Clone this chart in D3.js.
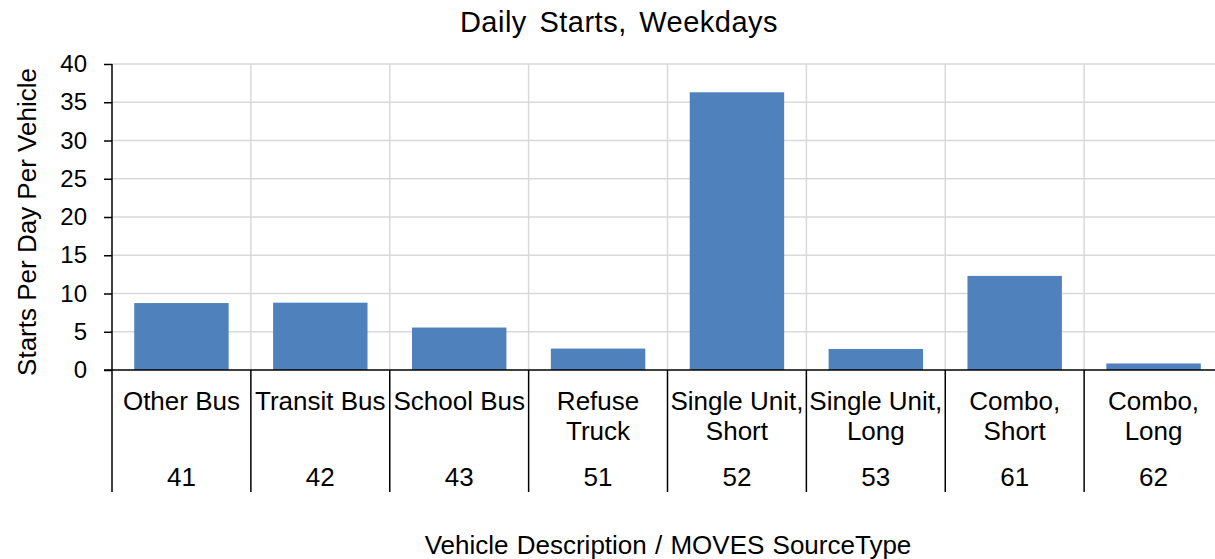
<!DOCTYPE html>
<html>
<head>
<meta charset="utf-8">
<script src="https://cdn.jsdelivr.net/npm/d3@7"></script>
<style>
  body { margin: 0; background: #fff; }
  svg { font-family: Arial, "Liberation Sans", sans-serif; }
</style>
</head>
<body>
<div id="chart"></div>
<script>
// Chart data
const categories = [
    ['Other Bus'], ['Transit Bus'], ['School Bus'], ['Refuse', 'Truck'],
    ['Single Unit,', 'Short'], ['Single Unit,', 'Long'], ['Combo,', 'Short'], ['Combo,', 'Long']
];
const sourceTypes = ['41', '42', '43', '51', '52', '53', '61', '62'];
const startsPerDay = [8.75, 8.8, 5.55, 2.8, 36.3, 2.75, 12.3, 0.85];
const yTicks = [0, 5, 10, 15, 20, 25, 30, 35, 40];

const width = 1215;
const height = 559;
const plotLeft = 112, plotRight = 1223, plotTop = 64, plotBottom = 370;
const lowerEdge = 492;

const svg = d3.select('#chart').append('svg')
    .attr('width', width)
    .attr('height', height);

const x = d3.scaleBand()
    .domain(sourceTypes)
    .range([plotLeft, plotRight])
    .paddingInner(0.32)
    .paddingOuter(0.16);

const y = d3.scaleLinear()
    .domain([0, 40])
    .range([plotBottom, plotTop]);

// Horizontal gridlines
svg.append('g')
    .selectAll('line')
    .data(yTicks.slice(1))
    .enter()
    .append('line')
    .attr('x1', plotLeft)
    .attr('x2', plotRight)
    .attr('y1', d => y(d))
    .attr('y2', d => y(d))
    .attr('stroke', '#d9d9d9')
    .attr('stroke-width', 1.5);

// Vertical gridlines at category boundaries
const step = x.step();
const boundaries = d3.range(1, sourceTypes.length + 1).map(i => plotLeft + i * step);
svg.append('g')
    .selectAll('line')
    .data(boundaries)
    .enter()
    .append('line')
    .attr('x1', d => d)
    .attr('x2', d => d)
    .attr('y1', plotTop)
    .attr('y2', plotBottom)
    .attr('stroke', '#d9d9d9')
    .attr('stroke-width', 1.5);

// Bars
svg.append('g')
    .selectAll('rect')
    .data(startsPerDay)
    .enter()
    .append('rect')
    .attr('x', (d, i) => x(sourceTypes[i]))
    .attr('y', d => y(d))
    .attr('width', x.bandwidth())
    .attr('height', d => y(0) - y(d))
    .attr('fill', '#4f81bd');

// Y axis
const yAxis = svg.append('g')
    .attr('transform', `translate(${plotLeft},0)`)
    .call(d3.axisLeft(y).tickValues(yTicks).tickSize(8).tickPadding(17));
yAxis.select('.domain').remove();
yAxis.selectAll('.tick line').attr('stroke', '#000').attr('stroke-width', 1.5);
yAxis.selectAll('.tick text')
    .attr('font-size', '24px')
    .attr('fill', '#000')
    .attr('font-family', 'Arial, "Liberation Sans", sans-serif');

// Axis lines
svg.append('line')
    .attr('x1', plotLeft).attr('x2', plotLeft)
    .attr('y1', plotTop).attr('y2', lowerEdge)
    .attr('stroke', '#000').attr('stroke-width', 1.5);
svg.append('line')
    .attr('x1', plotLeft - 8).attr('x2', plotRight)
    .attr('y1', plotBottom).attr('y2', plotBottom)
    .attr('stroke', '#000').attr('stroke-width', 1.5);

// Category dividers below axis
svg.append('g')
    .selectAll('line')
    .data(boundaries)
    .enter()
    .append('line')
    .attr('x1', d => d)
    .attr('x2', d => d)
    .attr('y1', plotBottom)
    .attr('y2', lowerEdge)
    .attr('stroke', '#000')
    .attr('stroke-width', 1.5);

// Category labels
const labels = svg.append('g')
    .selectAll('text')
    .data(categories)
    .enter()
    .append('text')
    .attr('text-anchor', 'middle')
    .attr('font-size', '26px')
    .attr('fill', '#000');
labels.each(function(d, i) {
    const cx = x(sourceTypes[i]) + x.bandwidth() / 2;
    d.forEach((line, j) => {
        d3.select(this).append('tspan')
            .attr('x', cx)
            .attr('y', 410 + j * 30)
            .text(line);
    });
});

// Source type labels
svg.append('g')
    .selectAll('text')
    .data(sourceTypes)
    .enter()
    .append('text')
    .attr('x', d => x(d) + x.bandwidth() / 2)
    .attr('y', 486)
    .attr('text-anchor', 'middle')
    .attr('font-size', '26px')
    .attr('fill', '#000')
    .text(d => d);

// Title
svg.append('text')
    .attr('x', 619)
    .attr('y', 32)
    .attr('text-anchor', 'middle')
    .attr('font-size', '29px')
    .attr('letter-spacing', '0.5px')
    .attr('word-spacing', '4px')
    .attr('fill', '#000')
    .text('Daily Starts, Weekdays');

// Y axis title
svg.append('text')
    .attr('transform', `translate(36, ${(plotTop + plotBottom) / 2 + 5}) rotate(-90)`)
    .attr('text-anchor', 'middle')
    .attr('font-size', '26px')
    .attr('fill', '#000')
    .text('Starts Per Day Per Vehicle');

// X axis title
svg.append('text')
    .attr('x', 668)
    .attr('y', 554)
    .attr('text-anchor', 'middle')
    .attr('font-size', '26px')
    .attr('word-spacing', '1px')
    .attr('fill', '#000')
    .text('Vehicle Description / MOVES SourceType');
</script>
</body>
</html>
